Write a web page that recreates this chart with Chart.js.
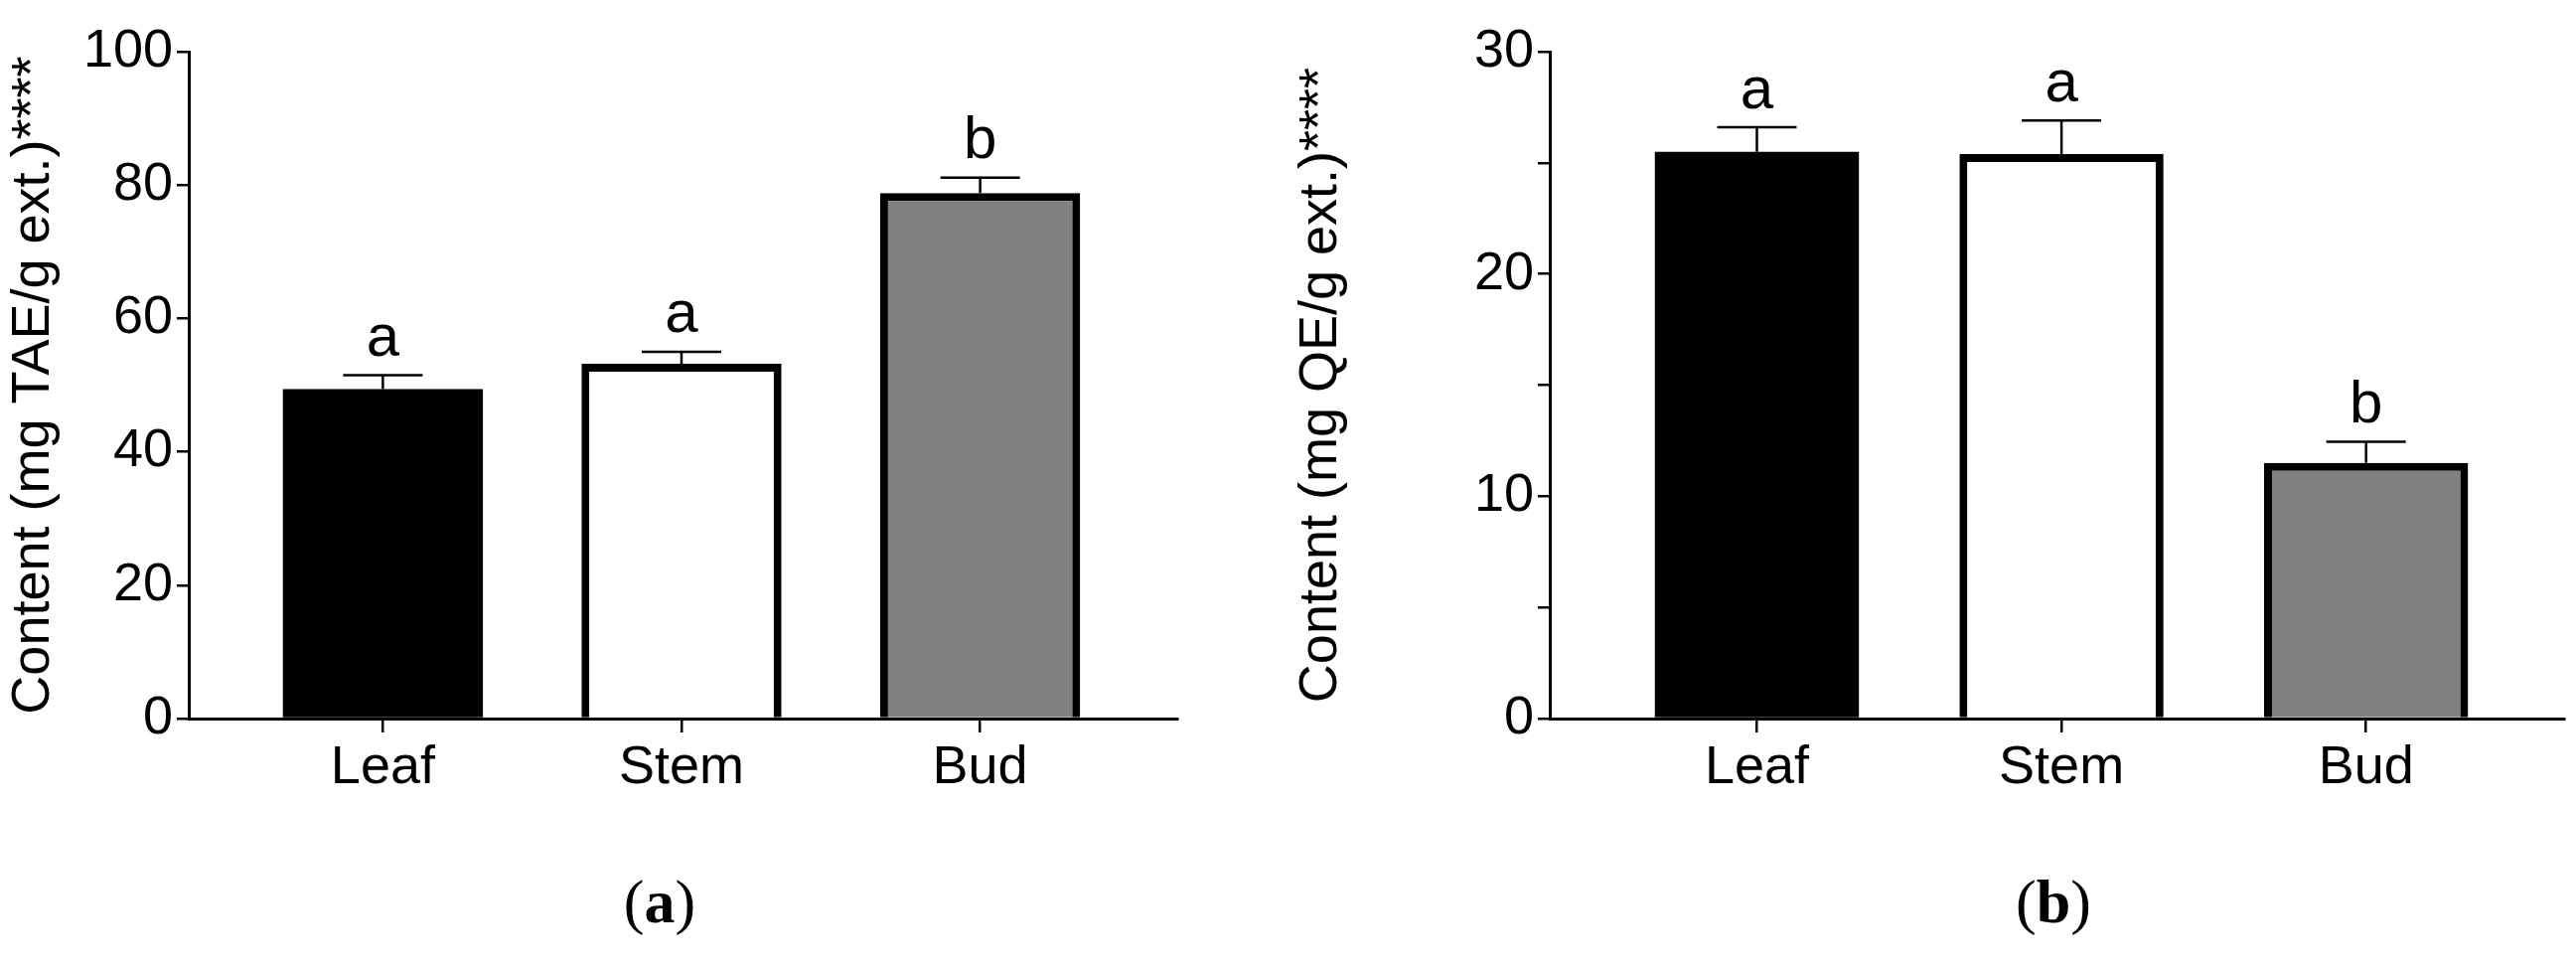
<!DOCTYPE html>
<html>
<head>
<meta charset="utf-8">
<script src="https://cdn.jsdelivr.net/npm/chart.js@4"></script>
<style>
  body { margin: 0; background: #fff; }
  .box { position: absolute; top: 0; height: 977px; }
  .cap { position: absolute; top: 872px; font: 62px 'Liberation Serif', serif; color: #000; transform: translateX(-50%); }
  .cap b { font-weight: bold; }
</style>
</head>
<body>
<div class="box" style="left:0;width:1296px"><canvas id="chartA"></canvas></div>
<div class="box" style="left:1296px;width:1297px"><canvas id="chartB"></canvas></div>
<div class="cap" style="left:664px">(<b>a</b>)</div>
<div class="cap" style="left:2067px">(<b>b</b>)</div>
<script>
const categories = ['Leaf', 'Stem', 'Bud'];
const colors = ['#000000', '#ffffff', '#808080'];

const phenolValues = [49.4, 53.2, 78.8];
const phenolErrors = [2.1, 1.8, 2.3];
const phenolLetters = ['a', 'a', 'b'];
const phenolTicks = [0, 20, 40, 60, 80, 100];

const flavValues = [25.5, 25.4, 11.5];
const flavErrors = [1.1, 1.5, 0.95];
const flavLetters = ['a', 'a', 'b'];
const flavTicks = [0, 10, 20, 30];

const font = "'Liberation Sans Narrow', 'Liberation Sans', Arial, sans-serif";

// upper error bars + significance letters
const extras = {
  id: 'extras',
  afterDatasetsDraw(chart, args, opts) {
    const ctx = chart.ctx, y = chart.scales.y, x = chart.scales.x;
    ctx.save();
    ctx.strokeStyle = '#000';
    ctx.lineWidth = 2.5;
    ctx.fillStyle = '#000';
    ctx.font = '60px ' + font;
    ctx.textAlign = 'center';
    ctx.textBaseline = 'bottom';
    opts.values.forEach((v, i) => {
      const px = x.getPixelForValue(i);
      const top = y.getPixelForValue(v + opts.errors[i]);
      const base = y.getPixelForValue(v);
      ctx.beginPath();
      ctx.moveTo(px, base);
      ctx.lineTo(px, top);
      ctx.moveTo(px - 40, top);
      ctx.lineTo(px + 40, top);
      ctx.stroke();
      ctx.fillText(opts.letters[i], px, top - 6);
    });
    ctx.restore();
  }
};

function makeChart(id, values, errors, letters, ticks, minorStep, ymax, title, xmin, xmax, padRight, yWidth) {
  new Chart(document.getElementById(id), {
    type: 'bar',
    data: {
      datasets: [{
        data: values.map((v, i) => ({ x: i, y: v })),
        backgroundColor: colors,
        borderColor: '#000',
        borderWidth: [0, 8, 8],
        borderSkipped: 'bottom',
        barPercentage: 0.67,
        categoryPercentage: 1
      }]
    },
    options: {
      responsive: true,
      maintainAspectRatio: false,
      animation: false,
      layout: { padding: { top: 52, right: padRight, bottom: 0, left: 0 } },
      plugins: {
        legend: { display: false },
        tooltip: { enabled: false },
        extras: { values, errors, letters }
      },
      scales: {
        x: {
          type: 'linear',
          offset: false,
          min: xmin,
          max: xmax,
          afterBuildTicks: s => { s.ticks = categories.map((c, i) => ({ value: i })); },
          afterFit: s => { s.height = 254; },
          ticks: {
            callback: v => categories[v],
            color: '#000',
            font: { family: font, size: 54 },
            padding: 4,
            maxRotation: 0
          },
          grid: { offset: false, drawOnChartArea: false, color: '#000', lineWidth: 2.5, tickLength: 14 },
          border: { color: '#000', width: 3 }
        },
        y: {
          min: 0,
          max: ymax,
          afterBuildTicks: s => {
            const t = [];
            for (let v = 0; v <= ymax; v += minorStep) t.push({ value: v });
            s.ticks = t;
          },
          afterFit: s => { s.width = yWidth; },
          ticks: {
            callback: v => ticks.includes(v) ? String(v) : '',
            color: '#000',
            font: { family: font, size: 54 },
            padding: 4
          },
          grid: { drawOnChartArea: false, color: '#000', lineWidth: 2.5, tickLength: 12 },
          border: { color: '#000', width: 3 },
          title: {
            display: true,
            text: title,
            color: '#000',
            font: { family: "'Liberation Sans', Arial, sans-serif", size: 54 },
            padding: 2
          }
        }
      }
    },
    plugins: [extras]
  });
}

makeChart('chartA', phenolValues, phenolErrors, phenolLetters, phenolTicks, 10, 100,
  'Content (mg TAE/g ext.)****', -0.65, 2.66, 111, 190);
makeChart('chartB', flavValues, flavErrors, flavLetters, flavTicks, 5, 30,
  'Content (mg QE/g ext.)****', -0.68, 2.65, 12, 264);
</script>
</body>
</html>
